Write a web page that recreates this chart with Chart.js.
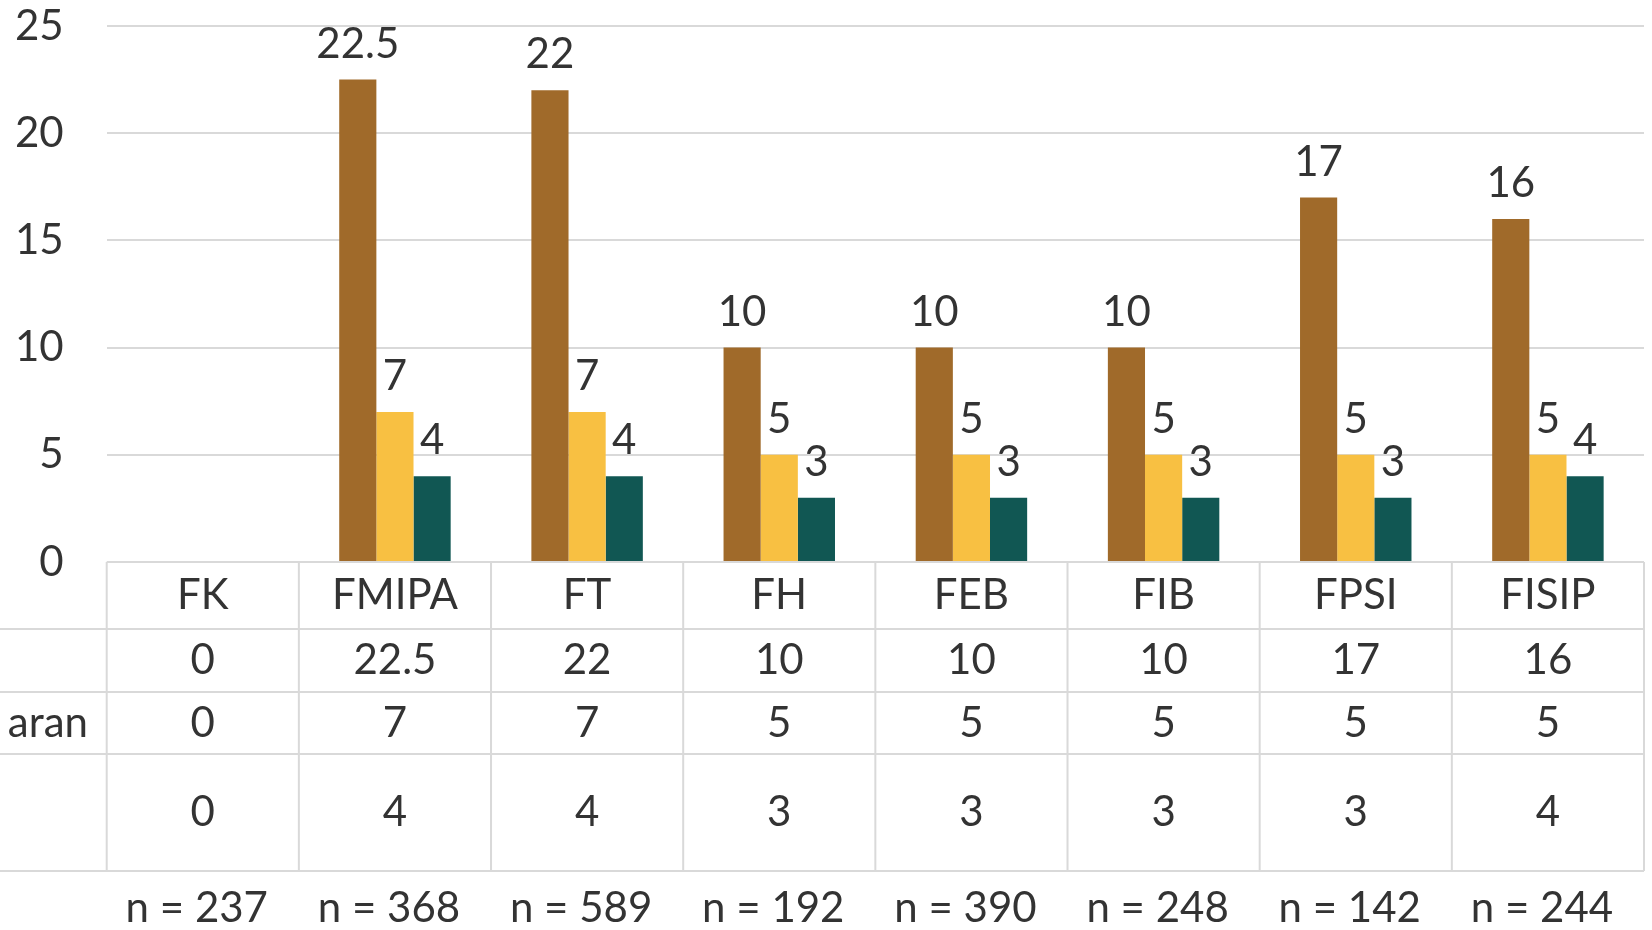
<!DOCTYPE html>
<html>
<head>
<meta charset="utf-8">
<script src="https://cdn.jsdelivr.net/npm/chart.js@4/dist/chart.umd.min.js"></script>
<style>
  html, body { margin: 0; padding: 0; background: #fff; }
  #wrap { width: 1652px; height: 930px; }
</style>
</head>
<body>
<div id="wrap"><canvas id="chart" width="1652" height="930"></canvas></div>
<script>
// faculties and their sample sizes
const categories = ['FK', 'FMIPA', 'FT', 'FH', 'FEB', 'FIB', 'FPSI', 'FISIP'];
const sampleSizes = [237, 368, 589, 192, 390, 248, 142, 244];

// three series (row labels are cut off in the source, only "...aran" is visible)
const seriesNames = ['', 'Pengeluaran', ''];
const seriesHigh = [0, 22.5, 22, 10, 10, 10, 17, 16];
const seriesMid = [0, 7, 7, 5, 5, 5, 5, 5];
const seriesLow = [0, 4, 4, 3, 3, 3, 3, 4];

const yTicks = [0, 5, 10, 15, 20, 25];

const colors = ['#A06A2A', '#F8C042', '#115753'];
const textColor = '#333333';
const lineColor = '#d9d9d9';
const fontFamily = 'Lato, "Open Sans", sans-serif';

// value labels above each bar
const valueLabels = {
    id: 'valueLabels',
    afterDatasetsDraw(chart) {
        const ctx = chart.ctx;
        ctx.save();
        ctx.font = '42px ' + fontFamily;
        ctx.fillStyle = textColor;
        ctx.textAlign = 'center';
        ctx.textBaseline = 'alphabetic';
        chart.data.datasets.forEach((ds, i) => {
            chart.getDatasetMeta(i).data.forEach((bar, j) => {
                if (!ds.data[j]) return;
                ctx.fillText(String(ds.data[j]), bar.x, bar.y - 22);
            });
        });
        ctx.restore();
    }
};

// the data table under the plot
const dataTable = {
    id: 'dataTable',
    afterDraw(chart) {
        const ctx = chart.ctx;
        const area = chart.chartArea;
        const left = area.left;
        const right = area.right;
        const colW = (right - left) / categories.length;
        const rows = [area.bottom, 629, 692, 754, 871];

        ctx.save();
        ctx.strokeStyle = lineColor;
        ctx.lineWidth = 2;
        ctx.beginPath();
        ctx.moveTo(left, rows[0]);
        ctx.lineTo(right, rows[0]);
        for (let r = 1; r < rows.length; r++) {
            ctx.moveTo(0, rows[r]);
            ctx.lineTo(right, rows[r]);
        }
        for (let c = 0; c <= categories.length; c++) {
            const x = left + c * colW;
            ctx.moveTo(x, rows[0]);
            ctx.lineTo(x, rows[rows.length - 1]);
        }
        ctx.stroke();

        ctx.fillStyle = textColor;
        ctx.font = '42px ' + fontFamily;
        ctx.textBaseline = 'middle';
        ctx.textAlign = 'center';
        categories.forEach((cat, c) => {
            const cx = left + (c + 0.5) * colW;
            ctx.fillText(cat, cx, (rows[0] + rows[1]) / 2);
            chart.data.datasets.forEach((ds, i) => {
                ctx.fillText(String(ds.data[c]), cx, (rows[i + 1] + rows[i + 2]) / 2);
            });
        });

        // row labels, cut by the left edge so only the tail shows
        ctx.textAlign = 'right';
        seriesNames.forEach((name, i) => {
            if (!name) return;
            const tail = ctx.measureText('aran').width;
            ctx.save();
            ctx.beginPath();
            ctx.rect(88 - tail - 1, rows[i + 1], tail + 10, rows[i + 2] - rows[i + 1]);
            ctx.clip();
            ctx.fillText(name, 88, (rows[i + 1] + rows[i + 2]) / 2);
            ctx.restore();
        });

        // sample sizes below the table
        ctx.font = '42px ' + fontFamily;
        ctx.textAlign = 'center';
        sampleSizes.forEach((n, c) => {
            const cx = left + (c + 0.5) * colW - 6;
            ctx.fillText('n = ' + n, cx, 908);
        });
        ctx.restore();
    }
};

const ctx = document.getElementById('chart').getContext('2d');
new Chart(ctx, {
    type: 'bar',
    data: {
        labels: categories,
        datasets: [
            { label: 'Seri 1', data: seriesHigh, backgroundColor: colors[0] },
            { label: seriesNames[1], data: seriesMid, backgroundColor: colors[1] },
            { label: 'Seri 3', data: seriesLow, backgroundColor: colors[2] }
        ]
    },
    options: {
        responsive: false,
        animation: false,
        layout: {
            padding: { top: 26, bottom: 368, left: 0, right: 8 }
        },
        datasets: {
            bar: { categoryPercentage: 0.58, barPercentage: 1.0 }
        },
        plugins: {
            legend: { display: false },
            tooltip: { enabled: false }
        },
        scales: {
            x: { display: false },
            y: {
                min: 0,
                max: 25,
                afterBuildTicks(scale) {
                    scale.ticks = yTicks.map(v => ({ value: v }));
                },
                afterFit(scale) {
                    scale.width = 106.7;
                    scale.paddingTop = 0;
                    scale.paddingBottom = 0;
                },
                border: { display: false },
                grid: { color: lineColor, lineWidth: 2, drawTicks: false },
                ticks: {
                    padding: 43,
                    color: textColor,
                    font: { family: fontFamily, size: 42 }
                }
            }
        }
    },
    plugins: [valueLabels, dataTable]
});
</script>
</body>
</html>
